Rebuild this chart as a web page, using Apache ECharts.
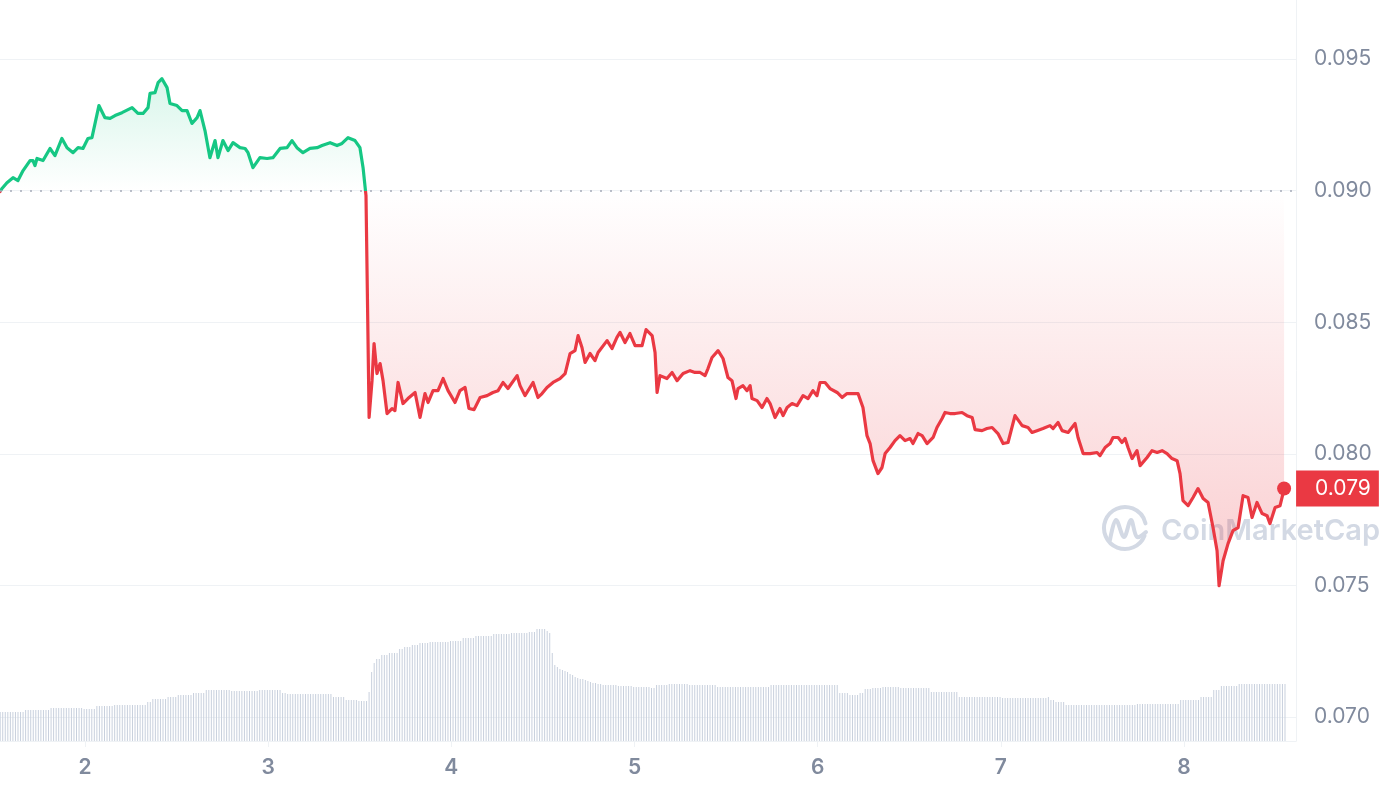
<!DOCTYPE html>
<html>
<head>
<meta charset="utf-8">
<script src="https://cdn.jsdelivr.net/npm/echarts@6/dist/echarts.min.js"></script>
<style>
html,body{margin:0;padding:0;background:#ffffff;}
#chart{width:1392px;height:792px;}
</style>
</head>
<body>
<div id="chart"></div>
<script>
// ---------- DATA ----------
const dayTicks = [2, 3, 4, 5, 6, 7, 8];
const priceTicks = [0.070, 0.075, 0.080, 0.085, 0.090, 0.095];
const baselinePrice = 0.090;

const times = [
1.536,1.547,1.574,1.607,1.634,1.662,1.700,1.716,1.727,1.738,
1.771,1.809,1.836,1.874,1.902,1.935,1.962,1.989,2.016,2.038,
2.076,2.109,2.137,2.164,2.202,2.257,2.289,2.317,2.344,2.355,
2.382,2.399,2.420,2.448,2.464,2.502,2.530,2.557,2.584,2.612,
2.628,2.655,2.682,2.710,2.726,2.753,2.781,2.808,2.846,2.874,
2.890,2.917,2.955,2.994,3.026,3.065,3.103,3.130,3.157,3.190,
3.228,3.267,3.294,3.338,3.376,3.403,3.436,3.474,3.501,3.518,
3.534,3.551,
3.567,3.578,3.594,3.611,3.627,3.649,3.676,3.692,3.709,3.736,
3.763,3.802,3.829,3.856,3.873,3.900,3.927,3.955,3.982,4.020,
4.047,4.075,4.096,4.124,4.157,4.195,4.227,4.255,4.282,4.309,
4.359,4.375,4.402,4.446,4.473,4.495,4.522,4.555,4.593,4.621,
4.648,4.675,4.692,4.713,4.730,4.757,4.784,4.801,4.850,4.877,
4.904,4.921,4.948,4.975,5.003,5.041,5.063,5.096,5.112,5.123,
5.139,5.177,5.205,5.232,5.265,5.303,5.330,5.358,5.385,5.401,
5.423,5.456,5.483,5.510,5.532,5.554,5.565,5.592,5.614,5.631,
5.641,5.669,5.696,5.723,5.740,5.767,5.794,5.811,5.833,5.860,
5.887,5.920,5.947,5.974,5.996,6.013,6.040,6.067,6.106,6.133,
6.160,6.193,6.220,6.247,6.269,6.286,6.302,6.329,6.351,6.368,
6.395,6.422,6.449,6.477,6.504,6.520,6.548,6.570,6.597,6.630,
6.651,6.679,6.695,6.722,6.750,6.788,6.815,6.843,6.859,6.897,
6.924,6.952,6.984,7.012,7.039,7.077,7.116,7.148,7.170,7.197,
7.230,7.268,7.285,7.312,7.334,7.367,7.405,7.421,7.449,7.487,
7.525,7.541,7.569,7.596,7.612,7.640,7.661,7.678,7.694,7.716,
7.743,7.760,7.798,7.825,7.853,7.880,7.907,7.934,7.962,7.978,
7.994,8.022,8.049,8.076,8.104,8.131,8.158,8.180,8.191,8.213,
8.240,8.267,8.295,8.322,8.349,8.371,8.398,8.426,8.453,8.469,
8.497,8.524,8.540,8.546
];

const prices = [
0.08996,0.09008,0.09030,0.09049,0.09038,0.09076,0.09114,0.09114,0.09095,0.09122,
0.09114,0.09160,0.09133,0.09198,0.09163,0.09144,0.09163,0.09160,0.09198,0.09201,
0.09323,0.09277,0.09274,0.09285,0.09296,0.09315,0.09293,0.09293,0.09315,0.09369,
0.09372,0.09410,0.09425,0.09391,0.09331,0.09323,0.09304,0.09304,0.09255,0.09277,
0.09304,0.09228,0.09125,0.09190,0.09125,0.09190,0.09152,0.09182,0.09163,0.09160,
0.09144,0.09087,0.09125,0.09122,0.09125,0.09160,0.09163,0.09190,0.09163,0.09144,
0.09160,0.09163,0.09171,0.09182,0.09171,0.09179,0.09201,0.09190,0.09163,0.09087,
0.08981,0.08138,
0.08278,0.08419,0.08305,0.08343,0.08278,0.08153,0.08172,0.08164,0.08271,0.08191,
0.08210,0.08233,0.08138,0.08229,0.08195,0.08240,0.08240,0.08286,0.08240,0.08195,
0.08240,0.08252,0.08172,0.08168,0.08214,0.08221,0.08233,0.08240,0.08271,0.08248,
0.08297,0.08259,0.08221,0.08271,0.08214,0.08229,0.08252,0.08271,0.08286,0.08305,
0.08381,0.08392,0.08449,0.08404,0.08347,0.08381,0.08354,0.08385,0.08430,0.08400,
0.08442,0.08461,0.08423,0.08457,0.08411,0.08411,0.08472,0.08449,0.08385,0.08233,
0.08297,0.08286,0.08309,0.08278,0.08305,0.08316,0.08309,0.08309,0.08297,0.08324,
0.08366,0.08392,0.08362,0.08290,0.08278,0.08210,0.08248,0.08259,0.08240,0.08259,
0.08210,0.08202,0.08176,0.08210,0.08191,0.08138,0.08172,0.08145,0.08176,0.08191,
0.08183,0.08221,0.08210,0.08240,0.08221,0.08271,0.08271,0.08248,0.08233,0.08214,
0.08229,0.08229,0.08229,0.08176,0.08069,0.08039,0.07974,0.07925,0.07948,0.08001,
0.08024,0.08050,0.08069,0.08050,0.08058,0.08039,0.08077,0.08069,0.08039,0.08062,
0.08100,0.08134,0.08157,0.08153,0.08153,0.08157,0.08145,0.08138,0.08092,0.08088,
0.08096,0.08100,0.08077,0.08039,0.08043,0.08145,0.08107,0.08100,0.08081,0.08088,
0.08096,0.08107,0.08096,0.08119,0.08088,0.08081,0.08115,0.08062,0.08001,0.08001,
0.08005,0.07993,0.08024,0.08039,0.08062,0.08062,0.08043,0.08058,0.08024,0.07982,
0.08012,0.07955,0.07986,0.08012,0.08005,0.08012,0.08001,0.07982,0.07974,0.07925,
0.07822,0.07803,0.07834,0.07868,0.07830,0.07815,0.07720,0.07632,0.07499,0.07594,
0.07659,0.07708,0.07720,0.07841,0.07834,0.07758,0.07815,0.07773,0.07765,0.07735,
0.07796,0.07803,0.07849,0.07868
];

// volume bars (millions), one every 20 minutes starting at volStart
const volStart = 1.537;
const volStep = 1 / 72;
const volumes = [
11.6,11.6,11.6,11.6,11.6,11.6,11.6,11.6,11.6,11.6,
12.4,12.4,12.4,12.4,12.4,12.4,12.4,12.4,12.4,12.4,
13.2,13.2,13.2,13.2,13.2,13.2,13.2,13.2,13.2,13.2,13.2,13.2,13.2,
12.8,12.8,12.8,12.8,12.8,
14.0,14.0,14.0,14.0,14.0,14.0,14.0,
14.4,14.4,14.4,14.4,14.4,14.4,14.4,14.4,14.4,14.4,14.4,14.4,14.4,
15.6,15.6,
16.8,16.8,16.8,16.8,16.8,16.8,
17.6,17.6,17.6,17.6,
18.4,18.4,18.4,18.4,18.4,18.4,
19.2,19.2,19.2,19.2,19.2,
20.4,20.4,20.4,20.4,20.4,20.4,20.4,20.4,20.4,20.4,
20.0,20.0,20.0,20.0,20.0,20.0,20.0,20.0,20.0,20.0,20.0,
20.4,20.4,20.4,20.4,20.4,20.4,20.4,20.4,20.4,
19.2,19.2,
18.8,18.8,18.8,18.8,18.8,18.8,18.8,18.8,18.8,18.8,18.8,18.8,18.8,18.8,18.8,18.8,18.8,18.8,
17.6,17.6,17.6,17.6,17.6,
16.4,16.4,16.4,16.4,16.4,
16.0,16.0,16.0,16.0,
19.6,27.6,31.2,32.8,32.8,34.4,34.4,34.4,35.2,35.2,35.2,35.2,
36.8,36.8,37.6,37.6,37.6,38.4,38.4,38.4,39.2,39.2,39.2,39.2,
39.6,39.6,39.6,39.6,39.6,39.6,39.6,39.6,
40.0,40.0,40.0,40.0,40.0,
41.2,41.2,41.2,41.2,41.2,
42.0,42.0,42.0,42.0,42.0,42.0,42.0,
42.8,42.8,42.8,42.8,42.8,42.8,42.8,
43.2,43.2,43.2,43.2,43.2,43.2,43.2,
43.6,43.6,43.6,
44.8,44.8,44.8,44.8,
44.0,43.2,35.2,30.4,29.6,28.8,28.4,28.0,27.6,26.8,26.4,25.6,25.2,
24.8,24.8,24.4,24.0,23.6,23.2,23.2,22.8,22.8,
22.4,22.4,22.4,22.4,22.4,22.4,
22.0,22.0,22.0,22.0,22.0,22.0,
21.6,21.6,21.6,21.6,21.6,21.6,21.6,
21.2,21.2,
22.4,22.4,22.4,22.4,22.4,
22.8,22.8,22.8,22.8,22.8,22.8,22.8,22.8,
22.4,22.4,22.4,22.4,22.4,22.4,22.4,22.4,22.4,22.4,22.4,
21.6,21.6,21.6,21.6,21.6,21.6,21.6,21.6,21.6,21.6,21.6,21.6,21.6,21.6,21.6,21.6,21.6,21.6,21.6,21.6,21.6,
22.4,22.4,22.4,22.4,22.4,22.4,22.4,22.4,22.4,22.4,22.4,22.4,22.4,22.4,22.4,22.4,22.4,22.4,22.4,22.4,22.4,22.4,22.4,22.4,22.4,22.4,22.4,
19.2,19.2,19.2,19.2,
18.4,18.4,18.4,18.4,
19.2,19.2,
20.8,20.8,20.8,
21.2,21.2,21.2,21.2,
21.6,21.6,21.6,21.6,21.6,21.6,21.6,
21.2,21.2,21.2,21.2,21.2,21.2,21.2,21.2,21.2,21.2,21.2,21.2,
19.6,19.6,19.6,19.6,19.6,19.6,19.6,19.6,19.6,19.6,19.6,
17.6,17.6,17.6,17.6,17.6,17.6,17.6,17.6,17.6,17.6,17.6,17.6,17.6,17.6,17.6,17.6,17.6,
17.2,17.2,17.2,17.2,17.2,17.2,17.2,17.2,17.2,17.2,17.2,17.2,17.2,17.2,17.2,17.2,17.2,17.2,
17.6,16.4,16.4,
15.6,15.6,15.6,15.6,
14.4,14.4,14.4,14.4,14.4,14.4,14.4,14.4,14.4,14.4,14.4,14.4,14.4,14.4,
14.4,14.4,14.4,14.4,14.4,14.4,14.4,14.4,14.4,14.4,14.4,14.4,14.4,14.4,
14.8,14.8,14.8,14.8,14.8,14.8,14.8,14.8,14.8,14.8,14.8,14.8,14.8,14.8,14.8,14.8,14.8,
16.4,16.4,16.4,16.4,16.4,16.4,16.4,16.4,
17.6,17.6,17.6,17.6,17.6,
20.4,20.4,20.4,
22.0,22.0,22.0,22.0,22.0,22.0,22.0,
22.8,22.8,22.8,22.8,22.8,22.8,22.8,22.8,22.8,22.8,22.8,22.8,22.8,22.8,22.8,22.8,22.8,22.8,22.8
];

// ---------- CHART ----------
const GREEN = '#16c784';
const RED = '#ea3943';
const LABEL = '#808a9d';
const GRIDC = '#eff2f5';
const FONT = 'Inter, "Noto Sans", sans-serif';

const priceData = times.map((t, i) => [t, prices[i]]);
const volData = volumes.map((v, i) => [volStart + i * volStep, v]);
const last = priceData[priceData.length - 1];

const chart = echarts.init(document.getElementById('chart'), null, { renderer: 'canvas' });

const areaGrad = new echarts.graphic.LinearGradient(0, 0, 0, 741, [
  { offset: 0.0, color: 'rgba(22,199,132,0.22)' },
  { offset: 0.105, color: 'rgba(22,199,132,0.17)' },
  { offset: 0.2564, color: 'rgba(22,199,132,0.0)' },
  { offset: 0.2565, color: 'rgba(234,57,67,0.0)' },
  { offset: 0.789, color: 'rgba(234,57,67,0.25)' },
  { offset: 1.0, color: 'rgba(234,57,67,0.28)' }
], true);

const WM = '#d3d9e4';

const option = {
  animation: false,
  backgroundColor: '#ffffff',
  grid: { left: 0, right: 96, top: 0, bottom: 51, containLabel: false },
  xAxis: {
    type: 'value',
    min: 1.536,
    max: 8.611,
    axisLine: { show: true, lineStyle: { color: GRIDC, width: 1 } },
    axisTick: { show: true, customValues: dayTicks, length: 6, lineStyle: { color: GRIDC, width: 1 } },
    axisLabel: {
      customValues: dayTicks,
      formatter: v => String(Math.round(v)),
      color: LABEL, fontSize: 21, fontWeight: 600, fontFamily: FONT, margin: 16
    },
    splitLine: { show: false }
  },
  yAxis: [
    {
      type: 'value',
      position: 'right',
      min: 0.06909,
      max: 0.09724,
      axisLine: { show: true, lineStyle: { color: GRIDC, width: 1 } },
      axisTick: { show: false, customValues: priceTicks },
      axisLabel: {
        customValues: priceTicks,
        formatter: v => v.toFixed(3),
        color: LABEL, fontSize: 21, fontFamily: FONT, margin: 18
      },
      splitLine: { show: true, lineStyle: { color: GRIDC, width: 1 } }
    },
    { type: 'value', min: 0, max: 296.4, show: false, splitLine: { show: false } }
  ],
  visualMap: {
    type: 'piecewise',
    show: false,
    seriesIndex: 0,
    dimension: 1,
    pieces: [
      { gt: baselinePrice, lte: 1, color: GREEN },
      { gt: 0, lte: baselinePrice, color: RED }
    ],
    outOfRange: { color: RED }
  },
  graphic: [
    {
      type: 'group', z: 1, silent: true,
      children: [
        { type: 'arc', shape: { cx: 1125, cy: 528, r: 21, startAngle: Math.PI * 0.12, endAngle: Math.PI * 1.93 },
          style: { stroke: WM, lineWidth: 4, fill: null, lineCap: 'round' } },
        { type: 'polyline', shape: { points: [[1110, 540], [1116, 520], [1124, 537], [1131, 520], [1137, 537], [1146, 532]], smooth: 0.35 },
          style: { stroke: WM, lineWidth: 4, fill: null, lineCap: 'round', lineJoin: 'round' } },
        { type: 'text', x: 1161, y: 531,
          style: { text: 'CoinMarketCap', fill: WM, font: '600 29px Inter, "Noto Sans", sans-serif', verticalAlign: 'middle', align: 'left' } }
      ]
    }
  ],
  series: [
    {
      name: 'Price',
      type: 'line',
      data: priceData,
      showSymbol: false,
      z: 3,
      lineStyle: { width: 3.2, join: 'round', cap: 'round' },
      areaStyle: { origin: baselinePrice, opacity: 1, color: areaGrad },
      markLine: {
        silent: true,
        symbol: ['none', 'none'],
        label: { show: false },
        lineStyle: { color: '#a5abb8', type: [2, 8], width: 1.5 },
        data: [{ yAxis: baselinePrice }]
      }
    },
    {
      name: 'Volume',
      type: 'bar',
      yAxisIndex: 1,
      data: volData,
      barWidth: 1,
      silent: true,
      z: 1,
      itemStyle: { color: '#c8d0dd' }
    },
    {
      name: 'Last',
      type: 'scatter',
      data: [last],
      symbolSize: 14,
      z: 6,
      silent: true,
      itemStyle: { color: RED, opacity: 1 },
      label: {
        show: true,
        position: 'right',
        distance: 5,
        formatter: p => p.value[1].toFixed(3),
        backgroundColor: RED,
        color: '#ffffff',
        opacity: 1,
        fontSize: 21,
        fontFamily: FONT,
        lineHeight: 20,
        padding: [8, 8, 8, 19]
      }
    }
  ]
};

chart.setOption(option);
</script>
</body>
</html>
